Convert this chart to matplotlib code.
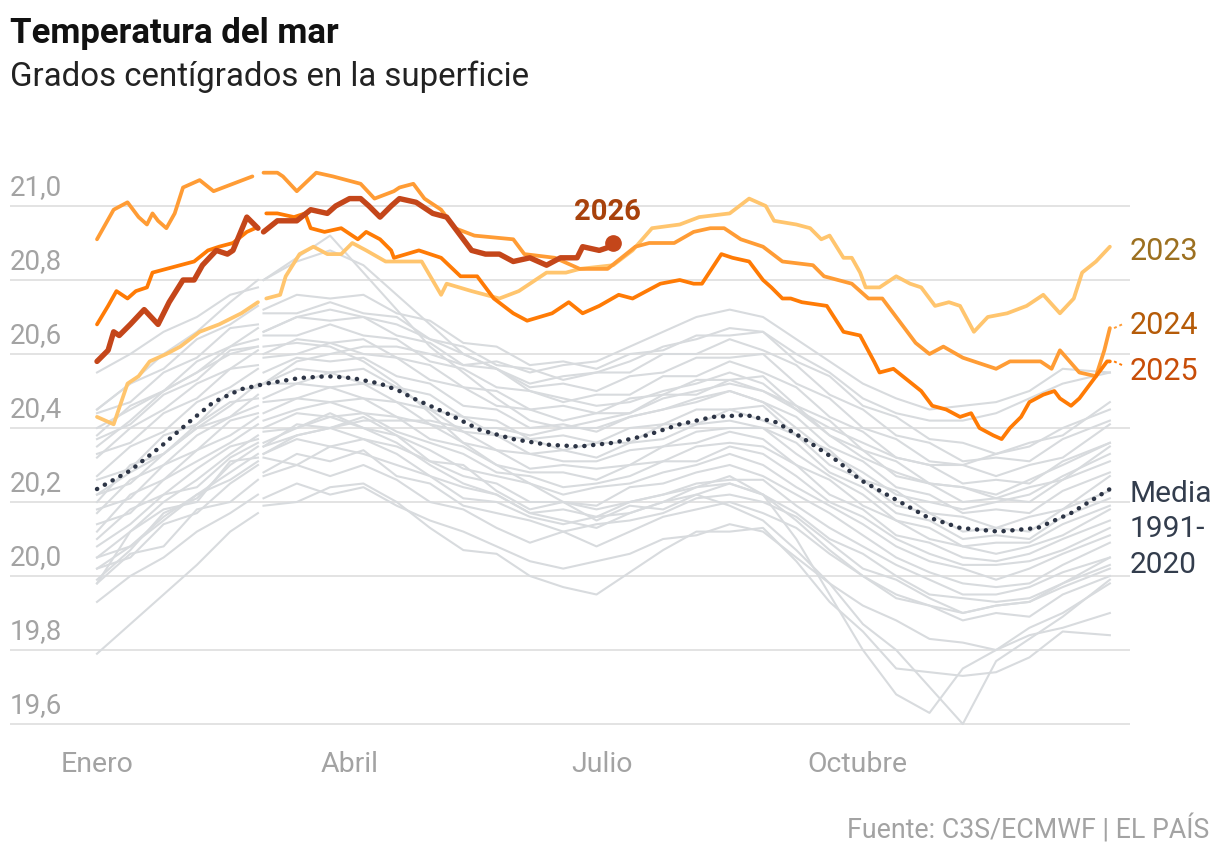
import numpy as np
import matplotlib
matplotlib.use("Agg")
import matplotlib.pyplot as plt
from matplotlib.transforms import blended_transform_factory

plt.rcParams['font.family'] = ['Roboto', 'DejaVu Sans']

# ---------------- data (day index 0..365 of a 366-day year) ----------------
month_days = [0, 91, 182, 274]
month_labels = ["Enero", "Abril", "Julio", "Octubre"]
y_ticks = [19.6, 19.8, 20.0, 20.2, 20.4, 20.6, 20.8, 21.0]
y_tick_labels = ["19,6", "19,8", "20,0", "20,2", "20,4", "20,6", "20,8", "21,0"]

days_2023 = [0, 6, 11, 15, 19, 25, 30, 37, 44, 52, 58, 61, 66, 68, 73, 78, 83, 88, 92, 97,
             104, 109, 117, 124, 126, 135, 145, 152, 162, 169, 174, 186, 193, 200, 210, 217,
             228, 235, 241, 244, 252, 257, 261, 264, 269, 272, 275, 277, 282, 288, 293, 297,
             302, 307, 311, 316, 321, 328, 335, 341, 347, 352, 355, 360, 365]
temp_2023 = [20.43, 20.41, 20.52, 20.54, 20.58, 20.60, 20.62, 20.66, 20.68, 20.71, 20.74, 20.75,
             20.76, 20.81, 20.87, 20.89, 20.87, 20.87, 20.90, 20.88, 20.85, 20.85, 20.85, 20.76,
             20.79, 20.77, 20.75, 20.77, 20.82, 20.82, 20.83, 20.84, 20.88, 20.94, 20.95, 20.97,
             20.98, 21.02, 21.00, 20.96, 20.95, 20.94, 20.91, 20.92, 20.86, 20.86, 20.82, 20.78,
             20.78, 20.81, 20.79, 20.78, 20.73, 20.74, 20.73, 20.66, 20.70, 20.71, 20.73, 20.76,
             20.71, 20.75, 20.82, 20.85, 20.89]

days_2024 = [0, 6, 11, 15, 18, 20, 22, 25, 28, 31, 37, 42, 49, 56, 60, 65, 67, 72, 79, 85,
             95, 100, 107, 109, 114, 118, 124, 129, 136, 150, 154, 165, 174, 184, 194, 199, 208,
             215, 221, 226, 232, 240, 247, 258, 262, 272, 278, 283, 288, 295, 300, 305, 312, 316,
             324, 329, 340, 344, 347, 354, 360, 363, 365]
temp_2024 = [20.91, 20.99, 21.01, 20.97, 20.95, 20.98, 20.96, 20.94, 20.98, 21.05, 21.07, 21.04,
             21.06, 21.08, 21.09, 21.09, 21.08, 21.04, 21.09, 21.08, 21.06, 21.02, 21.04, 21.05,
             21.06, 21.02, 20.99, 20.94, 20.92, 20.91, 20.87, 20.86, 20.83, 20.83, 20.89, 20.90,
             20.90, 20.93, 20.94, 20.94, 20.91, 20.89, 20.85, 20.84, 20.81, 20.79, 20.75, 20.75,
             20.70, 20.63, 20.60, 20.62, 20.59, 20.58, 20.56, 20.58, 20.58, 20.56, 20.61, 20.55,
             20.54, 20.61, 20.67]

days_2025 = [0, 4, 7, 11, 14, 18, 20, 25, 30, 35, 40, 44, 49, 54, 57, 61, 65, 71, 75, 77, 82,
             88, 94, 97, 102, 106, 107, 116, 124, 131, 137, 143, 150, 155, 164, 170, 175, 181,
             188, 193, 203, 210, 215, 218, 225, 229, 235, 240, 243, 247, 250, 254, 263, 269, 275,
             280, 282, 287, 292, 297, 301, 306, 311, 315, 318, 323, 326, 329, 333, 336, 341, 345,
             347, 351, 354, 359, 364, 365]
temp_2025 = [20.68, 20.73, 20.77, 20.75, 20.77, 20.78, 20.82, 20.83, 20.84, 20.85, 20.88, 20.89,
             20.90, 20.93, 20.94, 20.98, 20.98, 20.97, 20.98, 20.94, 20.93, 20.94, 20.91, 20.93,
             20.91, 20.88, 20.86, 20.88, 20.86, 20.81, 20.81, 20.75, 20.71, 20.69, 20.71, 20.74,
             20.71, 20.73, 20.76, 20.75, 20.79, 20.80, 20.79, 20.79, 20.87, 20.86, 20.85, 20.80,
             20.78, 20.75, 20.75, 20.74, 20.73, 20.66, 20.65, 20.58, 20.55, 20.56, 20.53, 20.50,
             20.46, 20.45, 20.43, 20.44, 20.40, 20.38, 20.37, 20.40, 20.43, 20.47, 20.49, 20.50,
             20.48, 20.46, 20.48, 20.53, 20.58, 20.58]

days_2026 = [0, 4, 6, 8, 12, 17, 22, 26, 31, 35, 38, 43, 47, 49, 54, 58, 60, 65, 72, 77, 83,
             86, 91, 95, 98, 102, 106, 109, 115, 121, 126, 131, 135, 140, 145, 150, 156, 162,
             167, 173, 175, 181, 185, 186]
temp_2026 = [20.58, 20.61, 20.66, 20.65, 20.68, 20.72, 20.68, 20.74, 20.80, 20.80, 20.84, 20.88,
             20.87, 20.88, 20.97, 20.94, 20.93, 20.96, 20.96, 20.99, 20.98, 21.00, 21.02, 21.02,
             21.00, 20.97, 21.00, 21.02, 21.01, 20.98, 20.97, 20.92, 20.88, 20.87, 20.87, 20.85,
             20.86, 20.84, 20.86, 20.86, 20.89, 20.88, 20.89, 20.90]

days_media = [0, 12, 23, 33, 42, 52, 61, 73, 83, 92, 102, 109, 114, 126, 138, 150, 162, 174,
              186, 198, 210, 222, 234, 245, 257, 267, 275, 287, 299, 311, 325, 339, 351, 365]
temp_media = [20.235, 20.285, 20.35, 20.415, 20.47, 20.505, 20.52, 20.535, 20.54, 20.535, 20.52,
              20.50, 20.48, 20.44, 20.395, 20.37, 20.355, 20.35, 20.36, 20.38, 20.41, 20.43,
              20.435, 20.415, 20.36, 20.31, 20.26, 20.21, 20.16, 20.13, 20.12, 20.13, 20.17, 20.235]

# past years (grey), sampled on these days
days_past = [0, 12, 24, 36, 48, 58, 60, 72, 84, 96, 108, 120, 132, 144, 156, 168, 180, 192,
             204, 216, 228, 240, 252, 264, 276, 288, 300, 312, 324, 336, 348, 365]
past_years = [
    [19.79, 19.87, 19.95, 20.03, 20.12, 20.17, 20.19, 20.20, 20.24, 20.25, 20.20, 20.13, 20.07, 20.06, 20.00, 19.97, 19.95, 20.01, 20.07, 20.12, 20.12, 20.13, 20.04, 19.93, 19.85, 19.75, 19.74, 19.73, 19.74, 19.78, 19.85, 19.84],
    [19.99, 20.07, 20.17, 20.21, 20.30, 20.35, 20.35, 20.41, 20.40, 20.43, 20.38, 20.31, 20.30, 20.23, 20.18, 20.20, 20.15, 20.19, 20.18, 20.22, 20.19, 20.15, 20.07, 19.98, 19.87, 19.80, 19.70, 19.60, 19.77, 19.83, 19.89, 19.99],
    [20.05, 20.12, 20.20, 20.26, 20.33, 20.38, 20.36, 20.40, 20.44, 20.40, 20.36, 20.30, 20.25, 20.22, 20.17, 20.15, 20.13, 20.17, 20.20, 20.24, 20.27, 20.22, 20.10, 19.95, 19.80, 19.68, 19.63, 19.75, 19.80, 19.86, 19.90, 19.98],
    [19.93, 20.00, 20.05, 20.12, 20.17, 20.22, 20.21, 20.25, 20.22, 20.24, 20.19, 20.15, 20.12, 20.08, 20.04, 20.02, 20.04, 20.06, 20.10, 20.11, 20.14, 20.12, 20.05, 19.98, 19.92, 19.88, 19.83, 19.82, 19.80, 19.84, 19.86, 19.90],
    [19.98, 20.06, 20.08, 20.18, 20.20, 20.26, 20.27, 20.30, 20.27, 20.30, 20.26, 20.20, 20.18, 20.13, 20.09, 20.12, 20.08, 20.12, 20.16, 20.18, 20.20, 20.17, 20.13, 20.06, 20.00, 19.94, 19.92, 19.88, 19.90, 19.89, 19.95, 20.00],
    [20.02, 20.05, 20.14, 20.17, 20.25, 20.30, 20.28, 20.33, 20.31, 20.34, 20.27, 20.25, 20.19, 20.17, 20.15, 20.12, 20.14, 20.15, 20.17, 20.21, 20.22, 20.20, 20.16, 20.09, 20.02, 19.99, 19.94, 19.90, 19.92, 19.93, 19.97, 20.02],
    [20.05, 20.08, 20.16, 20.22, 20.26, 20.31, 20.32, 20.30, 20.35, 20.33, 20.30, 20.27, 20.21, 20.20, 20.16, 20.14, 20.16, 20.17, 20.20, 20.22, 20.25, 20.22, 20.17, 20.10, 20.06, 20.00, 19.95, 19.94, 19.93, 19.94, 19.98, 20.05],
    [19.98, 20.12, 20.18, 20.20, 20.31, 20.32, 20.33, 20.37, 20.35, 20.37, 20.33, 20.27, 20.24, 20.22, 20.17, 20.18, 20.16, 20.20, 20.22, 20.25, 20.26, 20.26, 20.19, 20.13, 20.08, 20.03, 19.99, 19.95, 19.95, 19.97, 20.01, 20.05],
    [20.08, 20.14, 20.22, 20.24, 20.32, 20.36, 20.35, 20.38, 20.40, 20.37, 20.35, 20.31, 20.27, 20.25, 20.20, 20.20, 20.19, 20.24, 20.25, 20.28, 20.30, 20.27, 20.22, 20.17, 20.11, 20.05, 20.01, 19.98, 19.97, 19.98, 20.03, 20.09],
    [20.10, 20.18, 20.22, 20.29, 20.35, 20.37, 20.39, 20.40, 20.43, 20.40, 20.38, 20.34, 20.29, 20.27, 20.25, 20.22, 20.24, 20.25, 20.28, 20.30, 20.33, 20.30, 20.24, 20.19, 20.14, 20.08, 20.04, 20.02, 19.99, 20.02, 20.06, 20.11],
    [20.14, 20.17, 20.26, 20.31, 20.36, 20.41, 20.40, 20.44, 20.43, 20.44, 20.39, 20.36, 20.33, 20.28, 20.27, 20.24, 20.25, 20.27, 20.31, 20.31, 20.35, 20.33, 20.27, 20.20, 20.16, 20.10, 20.06, 20.03, 20.03, 20.04, 20.07, 20.13],
    [20.12, 20.22, 20.26, 20.34, 20.38, 20.43, 20.42, 20.45, 20.47, 20.44, 20.43, 20.37, 20.35, 20.30, 20.28, 20.28, 20.26, 20.30, 20.31, 20.35, 20.36, 20.35, 20.30, 20.22, 20.18, 20.11, 20.09, 20.05, 20.04, 20.06, 20.10, 20.15],
    [20.18, 20.21, 20.30, 20.34, 20.42, 20.44, 20.44, 20.48, 20.47, 20.48, 20.43, 20.41, 20.36, 20.34, 20.29, 20.30, 20.29, 20.30, 20.35, 20.36, 20.39, 20.37, 20.30, 20.26, 20.19, 20.15, 20.10, 20.08, 20.06, 20.08, 20.11, 20.18],
    [20.17, 20.26, 20.30, 20.38, 20.43, 20.46, 20.47, 20.48, 20.51, 20.48, 20.47, 20.41, 20.39, 20.34, 20.33, 20.31, 20.31, 20.34, 20.35, 20.39, 20.40, 20.40, 20.33, 20.27, 20.22, 20.15, 20.13, 20.08, 20.09, 20.09, 20.14, 20.19],
    [20.22, 20.25, 20.33, 20.40, 20.43, 20.49, 20.48, 20.52, 20.51, 20.52, 20.47, 20.45, 20.39, 20.38, 20.33, 20.34, 20.32, 20.36, 20.37, 20.41, 20.42, 20.40, 20.36, 20.28, 20.24, 20.17, 20.15, 20.10, 20.11, 20.10, 20.16, 20.21],
    [20.20, 20.30, 20.33, 20.41, 20.47, 20.48, 20.52, 20.52, 20.55, 20.52, 20.51, 20.45, 20.43, 20.38, 20.37, 20.34, 20.36, 20.36, 20.41, 20.41, 20.45, 20.42, 20.38, 20.30, 20.26, 20.19, 20.17, 20.12, 20.13, 20.12, 20.18, 20.23],
    [20.26, 20.29, 20.38, 20.41, 20.50, 20.51, 20.52, 20.56, 20.55, 20.56, 20.51, 20.49, 20.43, 20.42, 20.37, 20.38, 20.36, 20.40, 20.41, 20.45, 20.45, 20.46, 20.38, 20.34, 20.26, 20.23, 20.17, 20.16, 20.13, 20.16, 20.18, 20.27],
    [20.27, 20.35, 20.39, 20.47, 20.51, 20.56, 20.55, 20.59, 20.58, 20.59, 20.54, 20.52, 20.46, 20.45, 20.40, 20.41, 20.39, 20.43, 20.45, 20.47, 20.50, 20.47, 20.43, 20.35, 20.31, 20.24, 20.22, 20.17, 20.18, 20.17, 20.23, 20.28],
    [20.33, 20.36, 20.44, 20.48, 20.56, 20.57, 20.59, 20.60, 20.63, 20.60, 20.59, 20.53, 20.51, 20.46, 20.45, 20.42, 20.44, 20.44, 20.49, 20.49, 20.53, 20.50, 20.46, 20.38, 20.34, 20.27, 20.25, 20.20, 20.21, 20.20, 20.26, 20.31],
    [20.32, 20.40, 20.45, 20.52, 20.56, 20.61, 20.60, 20.64, 20.63, 20.64, 20.59, 20.57, 20.51, 20.50, 20.45, 20.46, 20.44, 20.48, 20.49, 20.53, 20.53, 20.54, 20.46, 20.42, 20.34, 20.31, 20.25, 20.24, 20.21, 20.24, 20.26, 20.35],
    [20.37, 20.41, 20.49, 20.53, 20.61, 20.62, 20.65, 20.65, 20.68, 20.65, 20.64, 20.58, 20.56, 20.51, 20.50, 20.47, 20.49, 20.49, 20.54, 20.54, 20.58, 20.55, 20.51, 20.43, 20.39, 20.32, 20.30, 20.25, 20.26, 20.25, 20.31, 20.36],
    [20.38, 20.46, 20.50, 20.58, 20.62, 20.67, 20.66, 20.70, 20.69, 20.70, 20.65, 20.63, 20.57, 20.56, 20.51, 20.52, 20.50, 20.54, 20.55, 20.59, 20.59, 20.60, 20.52, 20.48, 20.40, 20.37, 20.31, 20.30, 20.27, 20.30, 20.32, 20.41],
    [20.44, 20.47, 20.55, 20.59, 20.67, 20.68, 20.71, 20.71, 20.74, 20.71, 20.70, 20.64, 20.62, 20.57, 20.56, 20.53, 20.55, 20.55, 20.60, 20.60, 20.64, 20.61, 20.57, 20.49, 20.45, 20.38, 20.36, 20.31, 20.32, 20.31, 20.37, 20.42],
    [20.45, 20.52, 20.56, 20.64, 20.68, 20.73, 20.72, 20.76, 20.75, 20.76, 20.71, 20.69, 20.63, 20.62, 20.57, 20.58, 20.56, 20.60, 20.61, 20.65, 20.65, 20.66, 20.58, 20.54, 20.46, 20.43, 20.37, 20.36, 20.33, 20.36, 20.38, 20.47],
    [20.55, 20.60, 20.66, 20.70, 20.76, 20.78, 20.80, 20.86, 20.92, 20.82, 20.72, 20.62, 20.55, 20.48, 20.42, 20.40, 20.40, 20.43, 20.45, 20.48, 20.50, 20.47, 20.40, 20.33, 20.28, 20.22, 20.20, 20.18, 20.20, 20.22, 20.27, 20.33],
    [20.22, 20.28, 20.33, 20.40, 20.46, 20.52, 20.52, 20.58, 20.60, 20.62, 20.62, 20.60, 20.57, 20.58, 20.55, 20.57, 20.58, 20.62, 20.66, 20.70, 20.72, 20.70, 20.64, 20.58, 20.52, 20.48, 20.45, 20.46, 20.47, 20.50, 20.56, 20.55],
    [20.45, 20.52, 20.60, 20.66, 20.74, 20.80, 20.80, 20.85, 20.88, 20.84, 20.76, 20.68, 20.60, 20.56, 20.50, 20.48, 20.46, 20.47, 20.50, 20.52, 20.55, 20.52, 20.45, 20.38, 20.32, 20.28, 20.25, 20.24, 20.22, 20.26, 20.30, 20.36],
    [20.35, 20.42, 20.50, 20.55, 20.62, 20.64, 20.66, 20.70, 20.72, 20.70, 20.68, 20.64, 20.60, 20.56, 20.52, 20.54, 20.55, 20.58, 20.62, 20.64, 20.67, 20.66, 20.60, 20.55, 20.48, 20.44, 20.42, 20.42, 20.44, 20.48, 20.52, 20.55],
    [20.02, 20.08, 20.15, 20.22, 20.28, 20.33, 20.33, 20.38, 20.40, 20.42, 20.42, 20.42, 20.40, 20.40, 20.38, 20.40, 20.42, 20.44, 20.48, 20.50, 20.52, 20.50, 20.45, 20.40, 20.36, 20.32, 20.30, 20.30, 20.33, 20.35, 20.40, 20.45],
    [20.40, 20.45, 20.50, 20.55, 20.60, 20.62, 20.62, 20.63, 20.62, 20.58, 20.52, 20.44, 20.36, 20.30, 20.25, 20.20, 20.18, 20.20, 20.22, 20.24, 20.25, 20.22, 20.15, 20.07, 20.00, 19.95, 19.92, 19.90, 19.92, 19.93, 19.98, 20.03],
]

# ---------------- layout ----------------
W, H = 1220, 858
X0, PXD = 97.0, 2.775        # pixel of day 0, pixels per day
Y21, PXV = 206.0, 370.0      # pixel of 21.0, pixels per degree
AX_L, AX_R, AX_T, AX_B = 10.0, 1130.0, 150.5, 742.5

fig = plt.figure(figsize=(W / 100, H / 100), dpi=100)
fig.patch.set_facecolor('white')
ax = fig.add_axes([AX_L / W, 1 - AX_B / H, (AX_R - AX_L) / W, (AX_B - AX_T) / H])
ax.set_xlim((AX_L - X0) / PXD, (AX_R - X0) / PXD)
ax.set_ylim(21.0 - (AX_B - Y21) / PXV, 21.0 + (Y21 - AX_T) / PXV)
ax.axis('off')


def fy(py):
    return 1 - py / H


def gap(days, vals, at=59):
    d = np.asarray(days, float)
    v = np.asarray(vals, float)
    i = np.searchsorted(d, at)
    return np.insert(d, i, at), np.insert(v, i, np.nan)


# grid + y labels
for v, lab in zip(y_ticks, y_tick_labels):
    ax.axhline(v, color='#e0e0e0', lw=1.3, zorder=0)
    ax.annotate(lab, xy=(0, v), xycoords=('axes fraction', 'data'), xytext=(0, 11),
                textcoords='offset pixels', ha='left', va='baseline',
                fontsize=20, color='#a3a3a3')

# x labels
tr = blended_transform_factory(ax.transData, fig.transFigure)
for d, lab in zip(month_days, month_labels):
    ax.text(d, fy(772), lab, transform=tr, ha='center', va='baseline',
            fontsize=20.5, color='#a3a3a3')

# past years
for vals in past_years:
    d, v = gap(days_past, vals)
    ax.plot(d, v, color='#d8dbde', lw=1.5, zorder=1, solid_joinstyle='round')

# mean
ax.plot(days_media, temp_media, color='#2d3546', lw=3.2, ls=(0, (0.05, 1.95)),
        dash_capstyle='round', zorder=3)

# highlighted years
d, v = gap(days_2023, temp_2023)
ax.plot(d, v, color='#ffc56e', lw=2.7, zorder=4, solid_capstyle='round', solid_joinstyle='round')
d, v = gap(days_2024, temp_2024)
ax.plot(d, v, color='#ff9c35', lw=2.7, zorder=5, solid_capstyle='round', solid_joinstyle='round')
d, v = gap(days_2025, temp_2025)
ax.plot(d, v, color='#ff7b05', lw=2.7, zorder=6, solid_capstyle='round', solid_joinstyle='round')
d, v = gap(days_2026, temp_2026)
ax.plot(d, v, color='#c4461a', lw=3.9, zorder=7, solid_capstyle='round', solid_joinstyle='round')
ax.plot(days_2026[-1], temp_2026[-1], 'o', color='#c4461a', ms=11, zorder=8)

# small connectors to labels
ax.plot([days_2024[-1] + 1.5, days_2024[-1] + 5.0], [temp_2024[-1], temp_2024[-1] + 0.012],
        color='#ff9c35', lw=1.4, ls=(0, (1.5, 1.5)), zorder=5)
ax.plot([days_2025[-1] + 1.5, days_2025[-1] + 5.0], [temp_2025[-1], temp_2025[-1] - 0.012],
        color='#ff7b05', lw=1.4, ls=(0, (1.5, 1.5)), zorder=6)

# labels
ax.text(days_2026[-1] - 2, fy(220), "2026", transform=tr, ha='center', va='baseline',
        fontsize=21, fontweight='bold', color='#a8420c')
fig.text(1130 / W, fy(260), "2023", ha='left', va='baseline', fontsize=22, color='#9c7020')
fig.text(1130 / W, fy(334), "2024", ha='left', va='baseline', fontsize=22, color='#b55b08')
fig.text(1130 / W, fy(380), "2025", ha='left', va='baseline', fontsize=22, color='#c84d08')
for txt, py in zip(["Media", "1991-", "2020"], [502, 537, 573]):
    fig.text(1130 / W, fy(py), txt, ha='left', va='baseline', fontsize=21.5, color='#333d4d')

# titles
fig.text(10 / W, fy(43), "Temperatura del mar", ha='left', va='baseline',
         fontsize=25, fontweight='bold', color='#111111')
fig.text(10 / W, fy(86), "Grados centígrados en la superficie", ha='left', va='baseline',
         fontsize=23.8, color='#222222')
fig.text(1209 / W, fy(838), "Fuente: C3S/ECMWF | EL PAÍS", ha='right', va='baseline',
         fontsize=19.3, color='#a3a3a3')

fig.savefig("out.png", dpi=100, facecolor='white')
